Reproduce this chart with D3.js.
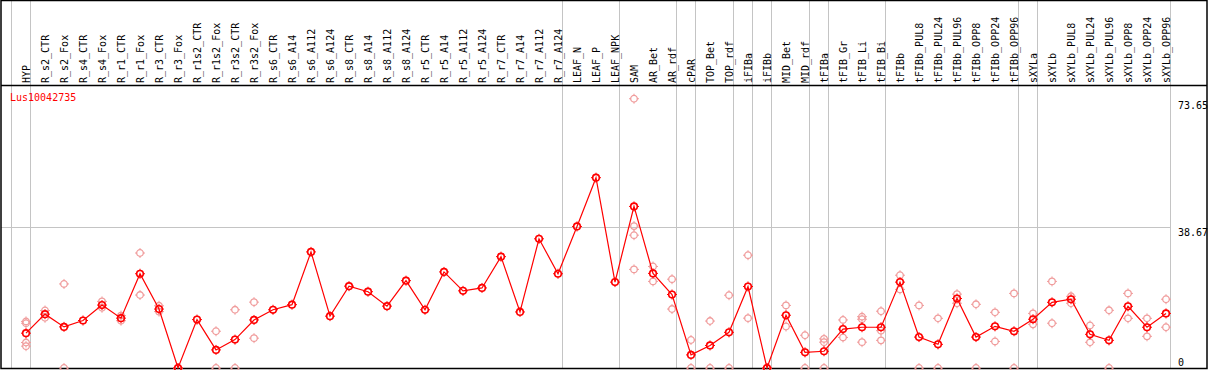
<!DOCTYPE html>
<html>
<head>
<meta charset="utf-8">
<script src="https://cdn.jsdelivr.net/npm/d3@7"></script>
<style>
  body { margin: 0; background: #fff; }
  svg { display: block; }
  text { font-family: "DejaVu Sans Mono", "Liberation Mono", monospace; font-size: 10px; }
</style>
</head>
<body>
<div id="chart"></div>
<script>
let geneName = "Lus10042735";

let categories = ["HYP","R_s2_CTR","R_s2_Fox","R_s4_CTR","R_s4_Fox","R_r1_CTR","R_r1_Fox","R_r3_CTR","R_r3_Fox",
  "R_r1s2_CTR","R_r1s2_Fox","R_r3s2_CTR","R_r3s2_Fox","R_s6_CTR","R_s6_A14","R_s6_A112","R_s6_A124",
  "R_s8_CTR","R_s8_A14","R_s8_A112","R_s8_A124","R_r5_CTR","R_r5_A14","R_r5_A112","R_r5_A124",
  "R_r7_CTR","R_r7_A14","R_r7_A112","R_r7_A124","LEAF_N","LEAF_P","LEAF_NPK","SAM","AR_Bet","AR_rdf",
  "cPAR","TOP_Bet","TOP_rdf","iFIBa","iFIBb","MID_Bet","MID_rdf","tFIBa","tFIB_Gr","tFIB_Li","tFIB_Bi",
  "tFIBb","tFIBb_PUL8","tFIBb_PUL24","tFIBb_PUL96","tFIBb_OPP8","tFIBb_OPP24","tFIBb_OPP96",
  "sXYLa","sXYLb","sXYLb_PUL8","sXYLb_PUL24","sXYLb_PUL96","sXYLb_OPP8","sXYLb_OPP24","sXYLb_OPP96"];

let means = [9.57,14.8,11.3,13.05,17.3,13.7,25.9,16.2,0,
  13.3,4.97,7.8,13.2,16.0,17.4,31.9,14.25,
  22.5,20.97,17.0,24.0,16.0,26.4,21.2,22.0,
  30.6,15.4,35.5,25.9,38.9,52.3,23.6,44.4,26.0,20.2,
  3.6,6.2,9.8,22.4,0,14.5,4.3,4.6,10.7,11.2,11.2,
  23.6,8.5,6.5,19.1,8.5,11.45,10.1,
  13.4,18.05,18.9,9.25,7.6,16.95,11.2,15.0];

let replicates = [[12.8,12.3,7.0,6.0],[15.8,13.8],[23.1,0],[],[18.3,16.55],[14.4,13.0],[31.6,20.05],[17.1,15.5],[0,0],
  [],[10.1,0],[16.0,0],[18.1,8.2],[],[],[],[],
  [],[],[],[],[],[],[],[],
  [],[],[],[],[],[],[],[74.0,39.0,36.5,27.1],[27.9,23.8],[24.4,16.2],
  [7.7,0],[12.9,0],[20.0,0],[31.0,13.7],[0,0],[17.2,11.4],[9.0,0],[8.0,7.1,0],[13.2,8.4],[14.1,13.4,7.1],[15.6,10.25,7.6],
  [25.5,21.6],[17.2,0],[13.65,0],[20.3,17.8],[17.5,0],[15.3,7.3],[20.5,0],
  [15.0,12.0],[23.8,12.3],[19.7,17.8],[11.7,7.06],[15.85,0],[20.5,13.65],[13.65,8.7],[18.9,11.2]];

// first sample of each tissue group (grey separators)
let groupStarts = ["HYP","R_s2_CTR","LEAF_N","SAM","cPAR","TOP_Bet","iFIBa","iFIBb","MID_Bet",
  "tFIBa","tFIB_Gr","tFIBb","sXYLa","sXYLb"];

let yTicks = [0, 38.67, 73.65];

let width = 1209, height = 370;
let headerH = 85, plotBottom = 368;

let svg = d3.select("#chart").append("svg")
  .attr("width", width).attr("height", height);

let x = d3.scaleBand().domain(categories).range([11, 11 + 19 * categories.length]);
let px = function(c){ return x(c) + 15; };
let y = d3.scaleLinear().domain([0, d3.max(yTicks)]).range([plotBottom, 100]);
let plotRight = x.range()[1];

// separators
let seps = groupStarts.map(function(c){ return x(c); }).concat([plotRight]);
svg.append("g").selectAll("line").data(seps).enter().append("line")
  .attr("x1", function(d){ return d + 0.5; }).attr("x2", function(d){ return d + 0.5; })
  .attr("y1", 0).attr("y2", plotBottom)
  .attr("stroke", "#c4c4c4").attr("stroke-width", 1);

// middle grid line
svg.append("line")
  .attr("x1", 1).attr("x2", plotRight)
  .attr("y1", Math.round(y(38.67)) + 0.5).attr("y2", Math.round(y(38.67)) + 0.5)
  .attr("stroke", "#c4c4c4");

// frame
svg.append("rect").attr("x", 1).attr("y", 0.5).attr("width", width - 3).attr("height", plotBottom)
  .attr("fill", "none").attr("stroke", "#000").attr("stroke-width", 1.5);
svg.append("line").attr("x1", 1).attr("x2", width - 2).attr("y1", headerH + 0.5).attr("y2", headerH + 0.5)
  .attr("stroke", "#000").attr("stroke-width", 1.5);

// header labels
svg.append("g").selectAll("text").data(categories).enter().append("text")
  .attr("transform", function(d){ return "translate(" + (px(d) + 4) + "," + (headerH - 2) + ") rotate(-90)"; })
  .attr("fill", "#000")
  .text(function(d){ return d; });

// y labels
svg.append("g").selectAll("text").data(yTicks).enter().append("text")
  .attr("x", plotRight + 8)
  .attr("y", function(d){ return d === 0 ? plotBottom - 2 : Math.round(y(d)) + 9; })
  .attr("fill", "#000")
  .text(function(d){ return d; });

svg.append("text").attr("x", 10).attr("y", 101).attr("fill", "red").text(geneName);

let stubs = "M0,-5V-3M0,3V5M-5,0H-3M3,0H5";
function marker(g, cx, cy, col, sw){
  let m = g.append("g").attr("transform", "translate(" + cx + "," + cy + ")");
  m.append("circle").attr("r", 3.3).attr("fill", "none").attr("stroke", col).attr("stroke-width", sw);
  m.append("path").attr("d", stubs).attr("stroke", col).attr("stroke-width", 1);
}

// replicates
let repGroup = svg.append("g");
categories.forEach(function(c, i){
  replicates[i].forEach(function(v){
    marker(repGroup, px(c), y(v), "#f09c9c", 1.3);
  });
});

// mean line
let line = d3.line().x(function(d, i){ return px(categories[i]); }).y(function(d){ return y(d); });
svg.append("path").datum(means).attr("d", line)
  .attr("fill", "none").attr("stroke", "red").attr("stroke-width", 1.2);

let meanGroup = svg.append("g");
means.forEach(function(v, i){
  marker(meanGroup, px(categories[i]), y(v), "red", 1.6);
});
</script>
</body>
</html>
